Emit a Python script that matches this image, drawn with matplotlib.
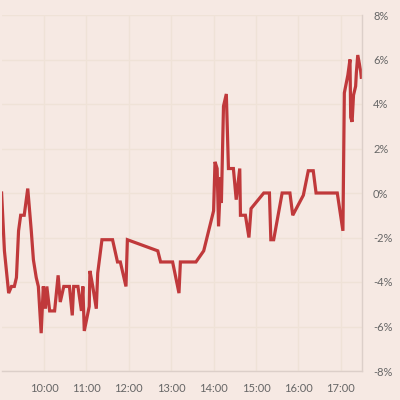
import pandas as pd
import matplotlib
matplotlib.use("Agg")
import matplotlib.pyplot as plt
import matplotlib.dates as mdates
from matplotlib.ticker import FuncFormatter

# intraday change
times = [
    "09:00", "09:04", "09:10", "09:14", "09:18", "09:21", "09:24", "09:27", "09:32", "09:37",
    "09:42", "09:45", "09:49", "09:52", "09:56", "09:59", "10:02", "10:04", "10:08", "10:15",
    "10:20", "10:23", "10:28", "10:36", "10:40", "10:42", "10:48", "10:53", "10:55", "10:57",
    "11:04", "11:05", "11:09", "11:14", "11:16", "11:22", "11:37", "11:44", "11:48", "11:56",
    "11:58", "12:41", "12:45", "13:02", "13:11", "13:13", "13:35", "13:46", "14:00", "14:02",
    "14:05", "14:07", "14:10", "14:11", "14:14", "14:18", "14:21", "14:28", "14:32", "14:37",
    "14:38", "14:45", "14:50", "14:53", "15:11", "15:19", "15:21", "15:25", "15:37", "15:48",
    "15:52", "16:07", "16:14", "16:21", "16:25", "16:55", "17:03", "17:05", "17:10", "17:13",
    "17:14", "17:16", "17:18", "17:21", "17:22", "17:24", "17:28", "17:29",
]
change = [
    0.0, -2.6, -4.5, -4.2, -4.2, -3.8, -1.7, -1.0, -1.0, 0.2,
    -1.7, -3.0, -3.8, -4.2, -6.3, -4.2, -5.2, -4.2, -5.3, -5.3,
    -3.7, -4.9, -4.2, -4.2, -5.5, -4.2, -4.2, -5.3, -4.2, -6.2,
    -5.1, -3.5, -4.2, -5.2, -3.6, -2.1, -2.1, -3.1, -3.1, -4.2,
    -2.1, -2.6, -3.1, -3.1, -4.5, -3.1, -3.1, -2.6, -0.8, 1.4,
    1.1, -1.5, 0.7, -0.45, 3.9, 4.45, 1.1, 1.1, -0.3, 1.1,
    -1.0, -1.0, -2.0, -0.7, 0.0, 0.0, -2.1, -2.1, 0.0, 0.0,
    -1.0, -0.1, 1.0, 1.0, 0.0, 0.0, -1.7, 4.5, 5.3, 6.0,
    3.4, 3.2, 4.4, 4.8, 5.4, 6.2, 5.5, 5.2,
]

hours = ["10:00", "11:00", "12:00", "13:00", "14:00", "15:00", "16:00", "17:00"]
pct_ticks = [-8, -6, -4, -2, 0, 2, 4, 6, 8]

day = "2024-01-02 "
t = pd.to_datetime([day + s for s in times])

bg = "#f6e9e3"
grid_c = "#efe2d7"
text_c = "#666666"

plt.rcParams["font.family"] = ["Lato", "DejaVu Sans"]

fig = plt.figure(figsize=(4, 4), dpi=100, facecolor=bg)
ax = fig.add_axes([0.004, 0.0725, 0.901, 0.89])
ax.set_facecolor(bg)

ax.plot(t, change, color="#c0393b", lw=2.3, solid_joinstyle="miter")

ax.set_xlim(pd.Timestamp(day + "09:00"), pd.Timestamp(day + "17:30"))
ax.set_ylim(-8, 8)

ax.set_xticks(pd.to_datetime([day + h for h in hours]))
ax.xaxis.set_major_formatter(mdates.DateFormatter("%H:%M"))
ax.set_yticks(pct_ticks)
ax.yaxis.set_major_formatter(FuncFormatter(lambda v, p: f"{v:.0f}%"))
ax.yaxis.tick_right()

ax.grid(True, color=grid_c, lw=1)
ax.set_axisbelow(True)
ax.tick_params(length=0, labelsize=8, colors=text_c)
ax.tick_params(axis="y", pad=8)
ax.tick_params(axis="x", pad=9)

for s in ["top", "left"]:
    ax.spines[s].set_visible(False)
for s in ["right", "bottom"]:
    ax.spines[s].set_color("#dccfc9")
    ax.spines[s].set_linewidth(1)

fig.savefig("out.png", dpi=100, facecolor=bg)
